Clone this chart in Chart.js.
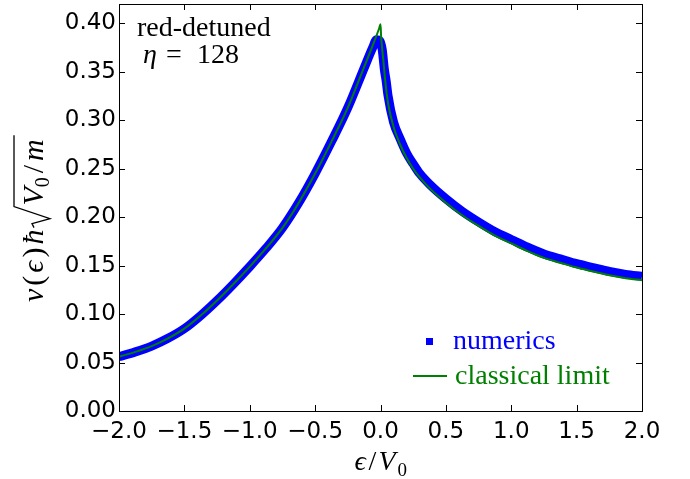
<!DOCTYPE html>
<html>
<head>
<meta charset="utf-8">
<script src="https://cdn.jsdelivr.net/npm/chart.js@4.4.1/dist/chart.umd.min.js"></script>
<style>
  body { margin: 0; background: #fff; }
  #wrap { width: 690px; height: 479px; position: relative; }
</style>
</head>
<body>
<div id="wrap"><canvas id="dosChart"></canvas></div>
<script>
// classical limit (green line)
const classicalX = [-2.0, -1.875, -1.75, -1.625, -1.5, -1.375, -1.25, -1.125, -1.0, -0.875, -0.75, -0.625,
  -0.5, -0.375, -0.25, -0.125, -0.06, -0.01, 0.0, 0.005, 0.021, 0.04, 0.06, 0.1, 0.15, 0.2, 0.25, 0.3, 0.375,
  0.5, 0.625, 0.75, 0.875, 1.0, 1.125, 1.25, 1.375, 1.5, 1.625, 1.75, 1.875, 2.0];
const classicalY = [0.056, 0.061, 0.067, 0.075, 0.085, 0.0985, 0.114, 0.131, 0.149, 0.168, 0.189, 0.215,
  0.245, 0.278, 0.313, 0.355, 0.377, 0.395, 0.399, 0.386, 0.363, 0.336, 0.316, 0.293, 0.275, 0.261, 0.250, 0.241, 0.230,
  0.215, 0.202, 0.191, 0.181, 0.173, 0.165, 0.158, 0.153, 0.148, 0.144, 0.140, 0.137, 0.135];

// numerics (blue squares)
const numericsX = [-2.0, -1.875, -1.75, -1.625, -1.5, -1.375, -1.25, -1.125, -1.0, -0.875, -0.75, -0.625,
  -0.5, -0.375, -0.25, -0.125, -0.06, -0.03, -0.005, 0.013, 0.03, 0.044, 0.057, 0.1, 0.15, 0.2, 0.25, 0.3, 0.375,
  0.5, 0.625, 0.75, 0.875, 1.0, 1.125, 1.25, 1.375, 1.5, 1.625, 1.75, 1.875, 2.0];
const numericsY = [0.056, 0.061, 0.067, 0.075, 0.085, 0.0985, 0.114, 0.131, 0.149, 0.168, 0.189, 0.215,
  0.245, 0.278, 0.313, 0.354, 0.375, 0.383, 0.382, 0.373, 0.352, 0.340, 0.326, 0.298, 0.281, 0.266, 0.255, 0.245, 0.234,
  0.219, 0.206, 0.195, 0.185, 0.177, 0.169, 0.162, 0.157, 0.152, 0.148, 0.144, 0.141, 0.139];

const xTickValues = [-2.0, -1.5, -1.0, -0.5, 0.0, 0.5, 1.0, 1.5, 2.0];
const yTickValues = [0.00, 0.05, 0.10, 0.15, 0.20, 0.25, 0.30, 0.35, 0.40];

const tickFont = { family: "'DejaVu Sans'", size: 23 };
const serif = "'Liberation Serif', 'DejaVu Serif', serif";

function toPoints(xs, ys) {
  return xs.map((x, i) => ({ x: x, y: ys[i] }));
}

// draws pieces of text one after another, returns the end position
function drawRun(ctx, pieces, x, gap) {
  pieces.forEach(p => {
    ctx.font = p.font;
    ctx.fillText(p.t, x, p.dy || 0);
    x += ctx.measureText(p.t).width + (p.gap !== undefined ? p.gap : gap);
  });
  return x;
}

// frame, inward ticks, annotations, legend and axis titles drawn on top
const decorPlugin = {
  id: 'decor',
  afterDatasetsDraw(chart) {
    const ctx = chart.ctx;
    const a = chart.chartArea;
    const xs = chart.scales.x, ys = chart.scales.y;
    const tl = 6;
    const it = 'italic 30px ' + serif, rm = '30px ' + serif, sub = '20px ' + serif;

    ctx.save();
    ctx.strokeStyle = '#000';
    ctx.lineWidth = 1;
    ctx.strokeRect(Math.round(a.left) + 0.5, Math.round(a.top) + 0.5,
      Math.round(a.right - a.left), Math.round(a.bottom - a.top));

    ctx.beginPath();
    xTickValues.forEach(v => {
      const px = Math.round(xs.getPixelForValue(v)) + 0.5;
      ctx.moveTo(px, a.bottom); ctx.lineTo(px, a.bottom - tl);
      ctx.moveTo(px, a.top); ctx.lineTo(px, a.top + tl);
    });
    yTickValues.forEach(v => {
      const py = Math.round(ys.getPixelForValue(v)) + 0.5;
      ctx.moveTo(a.left, py); ctx.lineTo(a.left + tl, py);
      ctx.moveTo(a.right, py); ctx.lineTo(a.right - tl, py);
    });
    ctx.stroke();

    // annotation top-left
    ctx.fillStyle = '#000';
    ctx.textBaseline = 'alphabetic';
    ctx.textAlign = 'left';
    ctx.font = '28px ' + serif;
    ctx.fillText('red-detuned', a.left + 18, a.top + 32);
    ctx.font = 'italic 28px ' + serif;
    ctx.fillText('\u03b7', a.left + 24, a.top + 59);
    ctx.font = '28px ' + serif;
    ctx.fillText('=', a.left + 47, a.top + 59);
    ctx.fillText('128', a.left + 78, a.top + 59);

    // legend
    ctx.fillStyle = '#0000ff';
    ctx.fillRect(a.right - 216, a.bottom - 73, 7, 7);
    ctx.fillText('numerics', a.right - 189, a.bottom - 62);
    ctx.strokeStyle = '#008000';
    ctx.lineWidth = 2;
    ctx.beginPath();
    ctx.moveTo(a.right - 229, a.bottom - 35);
    ctx.lineTo(a.right - 195, a.bottom - 35);
    ctx.stroke();
    ctx.fillStyle = '#008000';
    ctx.fillText('classical limit', a.right - 187, a.bottom - 27);

    // x axis title
    ctx.fillStyle = '#000';
    const cx = (a.left + a.right) / 2;
    ctx.font = 'italic 28px ' + serif;
    ctx.fillText('\u03f5', cx - 26, 470);
    ctx.font = '28px ' + serif;
    ctx.fillText('/', cx - 12, 470);
    ctx.font = 'italic 28px ' + serif;
    ctx.fillText('V', cx - 2, 470);
    ctx.font = '19px ' + serif;
    ctx.fillText('0', cx + 17, 476);

    // y axis title, rotated
    ctx.translate(43, 302);
    ctx.rotate(-Math.PI / 2);
    let pos = drawRun(ctx, [
      { t: '\u03bd', font: it },
      { t: '(', font: rm },
      { t: '\u03f5', font: it },
      { t: ')', font: rm },
      { t: '\u0127', font: it, gap: 1 }
    ], 0, 3);
    ctx.lineWidth = 1.3;
    ctx.strokeStyle = '#000';
    ctx.beginPath();
    ctx.moveTo(pos + 1, -9);
    ctx.lineTo(pos + 5, -11);
    ctx.lineTo(pos + 10, 7);
    ctx.lineTo(pos + 22, -29);
    const start = pos + 23;
    const end = drawRun(ctx, [
      { t: 'V', font: it, gap: 0 },
      { t: '0', font: sub, dy: 6 },
      { t: '/', font: rm },
      { t: 'm', font: it }
    ], start, 4);
    ctx.lineTo(end, -29);
    ctx.stroke();
    ctx.restore();
  }
};

const ctx = document.getElementById('dosChart').getContext('2d');
new Chart(ctx, {
  type: 'line',
  data: {
    datasets: [
      {
        label: 'classical limit',
        data: toPoints(classicalX, classicalY),
        borderColor: '#008000',
        borderWidth: 2,
        pointRadius: 0,
        cubicInterpolationMode: 'monotone',
        order: 0
      },
      {
        label: 'numerics',
        data: toPoints(numericsX, numericsY),
        borderColor: '#0000ff',
        borderWidth: 9,
        borderJoinStyle: 'bevel',
        pointRadius: 0,
        cubicInterpolationMode: 'monotone',
        order: 1
      }
    ]
  },
  options: {
    responsive: true,
    maintainAspectRatio: false,
    animation: false,
    layout: { padding: { left: 0, right: 48, top: 4, bottom: 0 } },
    plugins: {
      legend: { display: false },
      tooltip: { enabled: false }
    },
    scales: {
      x: {
        type: 'linear',
        min: -2,
        max: 2,
        afterBuildTicks: s => { s.ticks = xTickValues.map(v => ({ value: v })); },
        afterFit: s => { s.height = 68; s.paddingLeft = 0; s.paddingRight = 0; },
        grid: { display: false, drawTicks: false },
        border: { display: false },
        ticks: {
          color: '#000',
          font: tickFont,
          padding: 7,
          maxRotation: 0,
          callback: v => v.toFixed(1).replace('-', '\u2212')
        }
      },
      y: {
        min: 0,
        max: 0.42,
        afterBuildTicks: s => { s.ticks = yTickValues.map(v => ({ value: v })); },
        afterFit: s => { s.width = 119; s.paddingTop = 0; s.paddingBottom = 0; },
        grid: { display: false, drawTicks: false },
        border: { display: false },
        ticks: {
          color: '#000',
          font: tickFont,
          padding: 3,
          callback: v => v.toFixed(2)
        }
      }
    }
  },
  plugins: [decorPlugin]
});
</script>
</body>
</html>
